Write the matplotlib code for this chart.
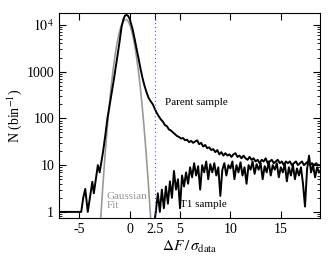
import numpy as np
import matplotlib
matplotlib.use('Agg')
import matplotlib.pyplot as plt
from matplotlib.ticker import FixedLocator, FuncFormatter, LogLocator, NullFormatter

plt.rcParams['font.family'] = 'Liberation Serif'
plt.rcParams['mathtext.fontset'] = 'stix'

# parent sample histogram
parent_x = [-7.0, -4.8, -4.6, -4.4, -4.15, -3.7, -3.55, -3.15, -2.97, -2.64, -2.4, -2.2,
            -2.0, -1.8, -1.6, -1.4, -1.2, -1.0, -0.8, -0.6, -0.45, -0.3, -0.15, 0.0, 0.15, 0.3,
            0.5, 0.7, 0.9, 1.1, 1.3, 1.5, 1.7, 1.9, 2.1, 2.3, 2.5, 2.7, 2.9, 3.1, 3.3,
            3.5, 3.7, 3.9, 4.1, 4.3, 4.5, 4.7, 4.9, 5.1, 5.3, 5.5, 5.7, 5.9, 6.1, 6.3,
            6.5, 6.7, 6.9, 7.1, 7.3, 7.5, 7.7, 7.9, 8.1, 8.3, 8.5, 8.7, 8.9, 9.1, 9.3,
            9.5, 9.7, 9.9, 10.1, 10.3, 10.5, 10.7, 10.9, 11.1, 11.3, 11.5, 11.7, 11.9,
            12.1, 12.3, 12.5, 12.7, 12.9, 13.1, 13.3, 13.5, 13.7, 13.9, 14.1, 14.3, 14.5,
            14.7, 14.9, 15.1, 15.3, 15.5, 15.7, 15.9, 16.1, 16.3, 16.5, 16.7, 16.9, 17.1,
            17.3, 17.5, 17.7, 17.9, 18.1, 18.3, 18.5, 18.7, 18.9]
parent_n = [1, 1, 2.0, 3.1, 1.0, 4.4, 2.5, 10, 7, 19, 45, 100,
            180, 330, 600, 1150, 2200, 4300, 9000, 13500, 15800, 16300, 15500, 13500, 10500, 8000,
            5000, 3000, 1850, 1100, 700, 480, 350, 270, 230, 200, 160, 130, 110, 95, 85,
            72, 68, 58, 55, 50, 46, 42, 40, 37, 38, 34, 35, 31, 33, 30,
            32, 34, 28, 30, 25, 27, 23, 24, 21, 22, 19, 21, 17, 19, 16,
            18, 16, 17, 15, 17, 18, 15, 16, 14, 16, 14, 13, 15,
            13, 14, 12, 13, 11, 13, 12, 14, 11, 12, 13, 11, 12,
            13, 11, 12, 10, 12, 11, 12, 10, 11, 12, 10, 11, 12,
            10, 11, 12, 10, 11, 10, 11, 10, 10]

# T1 sample histogram
t1_x = [2.5, 2.6, 2.8, 3.0, 3.2, 3.4, 3.6, 3.8, 4.0, 4.2, 4.4, 4.6, 4.8, 5.0, 5.2, 5.4,
        5.6, 5.8, 6.0, 6.2, 6.4, 6.6, 6.8, 7.0, 7.2, 7.4, 7.6, 7.8, 8.0, 8.2, 8.4, 8.6,
        8.8, 9.0, 9.2, 9.4, 9.6, 9.8, 10.0, 10.2, 10.4, 10.6, 10.8, 11.0, 11.2, 11.4,
        11.6, 11.8, 12.0, 12.2, 12.4, 12.6, 12.8, 13.0, 13.2, 13.4, 13.6, 13.8, 14.0,
        14.2, 14.4, 14.6, 14.8, 15.0, 15.2, 15.4, 15.6, 15.8, 16.0, 16.2, 16.4, 16.6,
        16.8, 17.0, 17.2, 17.4, 17.6, 17.8, 18.0, 18.2, 18.4, 18.6, 18.8]
t1_n = [0.7, 1.0, 2.5, 1.0, 3.0, 1.2, 3.5, 1.5, 4.5, 2.0, 7.5, 3.0, 5.0, 1.2, 6.0, 3.5,
        7.0, 4.0, 9.0, 5.5, 11.0, 6.0, 9.5, 3.0, 10.0, 7.0, 12.0, 5.0, 10.5, 7.0, 11.0, 6.0,
        9.0, 2.2, 8.0, 11.0, 6.0, 10.0, 8.5, 12.0, 5.0, 10.0, 7.0, 11.5, 6.0, 9.0,
        4.0, 10.0, 8.0, 12.0, 6.5, 10.5, 8.0, 11.0, 5.0, 9.5, 7.0, 12.0, 6.0,
        10.0, 8.0, 11.0, 5.5, 9.0, 7.0, 10.5, 4.5, 9.0, 6.0, 10.0, 5.0, 8.5,
        6.0, 9.0, 4.0, 1.3, 8.0, 16.0, 7.0, 10.0, 5.5, 9.0, 7.0]

# Gaussian fit parameters
gauss_amp = 13000
gauss_mu = -0.39
gauss_sigma = 0.56

fig = plt.figure(figsize=(3.28, 2.63), dpi=100)
ax = fig.add_axes([0.18, 0.171, 0.796, 0.78])

gx = np.linspace(-3.2, 2.5, 400)
gy = gauss_amp * np.exp(-(gx - gauss_mu) ** 2 / (2 * gauss_sigma ** 2))
ax.plot(gx, gy, color='#999999', lw=1.2)
ax.plot(parent_x, parent_n, color='black', lw=1.4)
ax.plot(t1_x, t1_n, color='black', lw=1.4)
ax.axvline(2.5, color='#4455ee', ls=(0, (1, 2.5)), lw=0.8)

ax.set_yscale('log')
ax.set_xlim(-7, 18.9)
ax.set_ylim(0.74, 18000)

ax.xaxis.set_major_locator(FixedLocator([-5, 0, 2.5, 5, 10, 15]))
ax.xaxis.set_major_formatter(FuncFormatter(lambda v, p: '%g' % v))
ax.yaxis.set_major_locator(FixedLocator([1, 10, 100, 1000, 10000]))
ax.yaxis.set_major_formatter(FuncFormatter(
    lambda v, p: r'$10^4$' if v >= 10000 else '%d' % v))
ax.yaxis.set_minor_locator(LogLocator(base=10, subs=np.arange(2, 10)))
ax.yaxis.set_minor_formatter(NullFormatter())
ax.tick_params(which='both', direction='in', top=True, right=True, labelsize=10)
ax.tick_params(which='major', length=5, width=0.8)
ax.tick_params(which='minor', length=2.5, width=0.6)
for s in ax.spines.values():
    s.set_linewidth(0.8)

ax.text(3.5, 214, 'Parent sample', fontsize=8, va='center', ha='left')
ax.text(-2.3, 1.7, 'Gaussian\nFit', fontsize=8, va='center', ha='left',
        color='#999999', linespacing=1.0)
ax.text(5.0, 1.43, 'T1 sample', fontsize=8, va='center', ha='left')

ax.set_xlabel(r'$\Delta F\,/\,\sigma_{\rm data}$', fontsize=11, labelpad=2)
ax.set_ylabel(r'N (bin$^{-1}$)', fontsize=10, labelpad=2)

fig.savefig('out.png', dpi=100)
